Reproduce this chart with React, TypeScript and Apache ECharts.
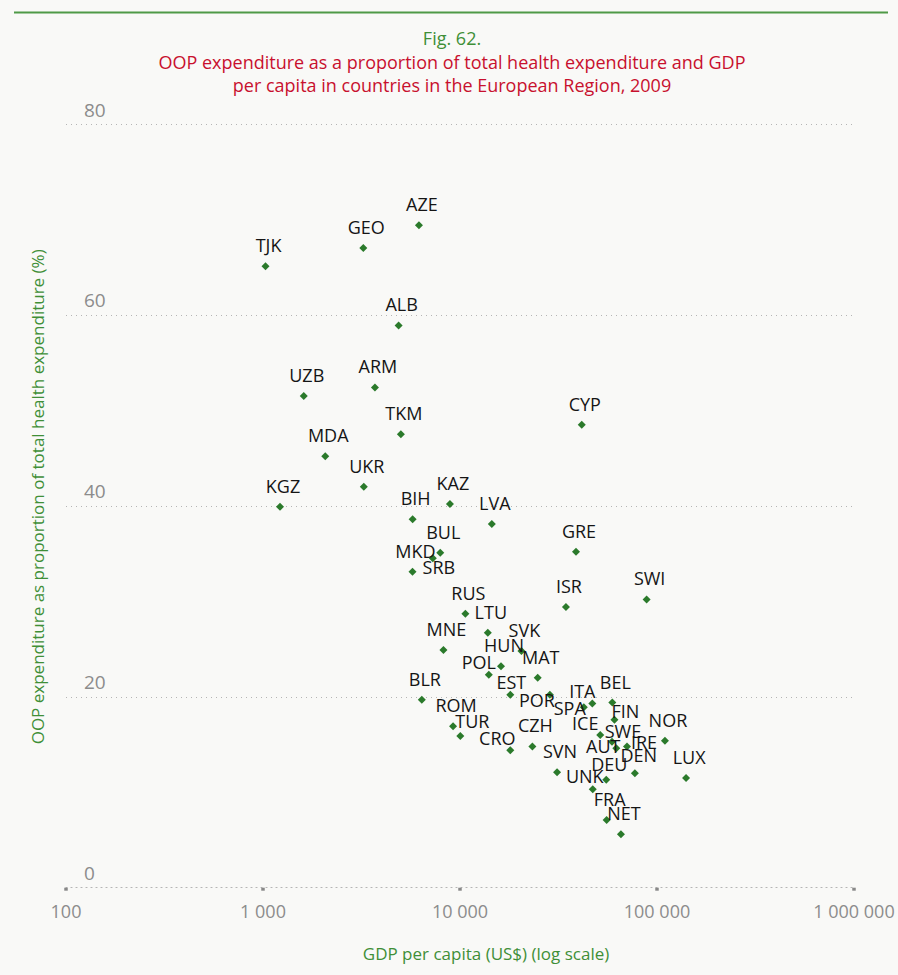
import React, { useEffect, useRef } from "react";
import * as echarts from "echarts";

// ---- Data ----
const COUNTRIES = [
  "TJK", "GEO", "AZE", "ALB", "UZB", "ARM", "TKM", "CYP", "MDA", "UKR",
  "KGZ", "KAZ", "BIH", "LVA", "GRE", "BUL", "SRB", "MKD", "SWI", "ISR",
  "RUS", "LTU", "MNE", "SVK", "HUN", "MAT", "POL", "EST", "BLR", "POR",
  "ITA", "BEL", "SPA", "FIN", "ROM", "TUR", "ICE", "NOR", "SWE", "IRE",
  "AUT", "CZH", "CRO", "SVN", "DEN", "LUX", "DEU", "UNK", "FRA", "NET",
];
// GDP per capita (US$)
const GDP_PER_CAPITA = [
  1030, 3230, 6190, 4880, 1610, 3700, 5010, 41500, 2070, 3250,
  1220, 8890, 5750, 14500, 38800, 7940, 7280, 5740, 88600, 34500,
  10650, 13840, 8240, 20500, 16150, 24800, 14000, 18000, 6400, 28600,
  46950, 59300, 42500, 60800, 9220, 10040, 51500, 109700, 59100, 70400,
  62150, 23300, 18000, 31100, 77200, 140500, 55250, 47200, 55500, 65600,
];
// OOP expenditure as % of total health expenditure
const OOP_SHARE = [
  65.1, 67.0, 69.4, 58.9, 51.5, 52.4, 47.5, 48.5, 45.2, 42.0,
  39.9, 40.2, 38.6, 38.1, 35.2, 35.1, 34.5, 33.1, 30.2, 29.4,
  28.7, 26.7, 24.9, 24.8, 23.2, 22.0, 22.3, 20.2, 19.7, 20.2,
  19.3, 19.4, 18.9, 17.6, 16.9, 15.9, 16.0, 15.4, 15.3, 14.8,
  14.6, 14.8, 14.4, 12.1, 12.0, 11.5, 11.3, 10.3, 7.1, 5.6,
];

const TITLE_FIG = "Fig. 62.";
const TITLE_LINES = [
  "OOP expenditure as a proportion of total health expenditure and GDP",
  "per capita in countries in the European Region, 2009",
];
const X_NAME = "GDP per capita (US$) (log scale)";
const Y_NAME = "OOP expenditure as proportion of total health expenditure (%)";

// ---- Label placement (style only) ----
const DEFAULT_LABEL_OFFSET = [3, -21];
const LABEL_OFFSETS: Record<string, number[]> = {
  SRB: [6, 9],
  POL: [-10, -13],
  EST: [1, -13],
  POR: [-13, 5],
  ITA: [-10, -12],
  SPA: [-14, 1],
  FIN: [11, -9],
  TUR: [12, -15],
  ICE: [-15, -12],
  SWE: [11, -11],
  IRE: [17, -4],
  AUT: [-13, -2],
  CRO: [-13, -12],
  DEN: [4, -18],
  DEU: [3, -16],
  UNK: [-8, -13],
};

const FONT = "'Open Sans', 'Noto Sans', sans-serif";
const GREEN_TEXT = "#3f8f37";
const MARKER_GREEN = "#2b7a2b";
const RED = "#c8102e";
const GREY = "#8c8c8c";

function fmtThousands(v: number): string {
  return Math.round(v)
    .toString()
    .replace(/\B(?=(\d{3})+(?!\d))/g, " ");
}

export default function App() {
  const ref = useRef<HTMLDivElement>(null);

  useEffect(() => {
    document.body.style.margin = "0";
    document.body.style.background = "#f9f9f7";
    if (!ref.current) return;
    const chart = echarts.init(ref.current, undefined, { renderer: "svg" });

    const data = COUNTRIES.map((name, i) => {
      const off = LABEL_OFFSETS[name] || DEFAULT_LABEL_OFFSET;
      return {
        name,
        value: [GDP_PER_CAPITA[i], OOP_SHARE[i]],
        label: { offset: off },
      };
    });

    chart.setOption({
      animation: false,
      backgroundColor: "#f9f9f7",
      textStyle: { fontFamily: FONT },
      graphic: [
        {
          type: "line",
          shape: { x1: 14, y1: 12.5, x2: 888, y2: 12.5 },
          style: { stroke: "#4f9a47", lineWidth: 2 },
        },
        {
          type: "text",
          x: 452,
          y: 38,
          style: {
            text: TITLE_FIG,
            fill: GREEN_TEXT,
            font: `18px ${FONT}`,
            align: "center",
            verticalAlign: "middle",
          },
        },
        {
          type: "text",
          x: 452,
          y: 61.5,
          style: {
            text: TITLE_LINES[0],
            fill: RED,
            font: `18px ${FONT}`,
            align: "center",
            verticalAlign: "middle",
          },
        },
        {
          type: "text",
          x: 452,
          y: 85,
          style: {
            text: TITLE_LINES[1],
            fill: RED,
            font: `18px ${FONT}`,
            align: "center",
            verticalAlign: "middle",
          },
        },
      ],
      grid: { left: 66, right: 44, top: 124, bottom: 87.3, containLabel: false },
      xAxis: {
        type: "log",
        logBase: 10,
        min: 100,
        max: 1000000,
        name: X_NAME,
        nameLocation: "middle",
        nameGap: 57,
        nameTextStyle: {
          color: GREEN_TEXT,
          fontSize: 17,
          fontFamily: FONT,
          padding: [0, 0, 0, 52],
        },
        axisLine: {
          show: true,
          lineStyle: { color: "#b5b5b5", type: [1, 4], width: 1.2 },
        },
        axisTick: {
          show: true,
          length: 3,
          lineStyle: { color: "#888", width: 3.5 },
        },
        minorTick: { show: false },
        splitLine: { show: false },
        axisLabel: {
          color: GREY,
          fontSize: 18,
          fontFamily: FONT,
          margin: 14,
          formatter: (v: number) => fmtThousands(v),
        },
      },
      yAxis: {
        type: "value",
        min: 0,
        max: 80,
        interval: 20,
        name: Y_NAME,
        nameLocation: "middle",
        nameGap: 20,
        nameTextStyle: {
          color: GREEN_TEXT,
          fontSize: 17,
          fontFamily: FONT,
          padding: [0, 0, 0, 18],
        },
        axisLine: { show: false },
        axisTick: { show: false },
        axisLabel: {
          color: GREY,
          fontSize: 19,
          fontFamily: FONT,
          align: "left",
          verticalAlign: "bottom",
          margin: -18,
          padding: [0, 0, 5, 0],
        },
        splitLine: {
          show: true,
          lineStyle: { color: "#b5b5b5", type: [1, 4], width: 1.2 },
        },
      },
      series: [
        {
          type: "scatter",
          symbol: "diamond",
          symbolSize: 8,
          itemStyle: { color: MARKER_GREEN, opacity: 1 },
          data,
          label: {
            show: true,
            position: "inside",
            formatter: "{b}",
            color: "#151515",
            fontSize: 18,
            fontFamily: FONT,
          },
          emphasis: { disabled: true },
        },
      ],
    });

    return () => chart.dispose();
  }, []);

  return (
    <div
      ref={ref}
      style={{
        position: "fixed",
        left: 0,
        top: 0,
        width: 898,
        height: 975,
        background: "#f9f9f7",
      }}
    />
  );
}
